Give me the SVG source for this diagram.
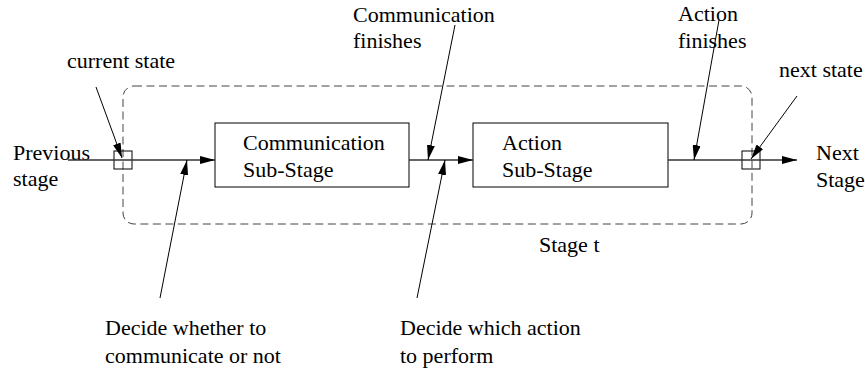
<svg xmlns="http://www.w3.org/2000/svg" width="865" height="368" viewBox="0 0 865 368">
<defs>
<marker id="ah" markerUnits="userSpaceOnUse" markerWidth="16" markerHeight="8" refX="15" refY="4" orient="auto">
<path d="M0,0 L15,4 L0,8 Z" fill="#000"/>
</marker>
</defs>
<style>
text { font-family: "Liberation Serif", "Times New Roman", serif; font-size: 22px; fill: #000; }
.box { fill: #fff; stroke: #000; stroke-width: 1; }
.sq { fill: none; stroke: #000; stroke-width: 1; }
.flow { stroke: #333; stroke-width: 1.3; fill: none; }
.ptr { stroke: #000; stroke-width: 1; fill: none; }
.stage { fill: none; stroke: #444; stroke-width: 1; stroke-dasharray: 8 4.5; }
</style>
<rect width="865" height="368" fill="#fff"/>
<g id="stage-t">
<rect class="stage" x="123" y="86" width="629" height="138" rx="11"/>
<text x="539" y="252">Stage t</text>
</g>
<g id="comm-sub-stage">
<rect class="box" x="215" y="123" width="194" height="64"/>
<text x="243" y="150">Communication</text>
<text x="243" y="177">Sub-Stage</text>
</g>
<g id="action-sub-stage">
<rect class="box" x="473" y="123" width="195" height="64"/>
<text x="502" y="150">Action</text>
<text x="502" y="177">Sub-Stage</text>
</g>
<g id="previous-stage">
<text x="13" y="160">Previous</text>
<text x="13" y="186">stage</text>
</g>
<g id="next-stage">
<text x="816" y="160">Next</text>
<text x="816" y="187">Stage</text>
</g>
<g id="current-state">
<rect class="sq" x="114" y="151" width="18" height="18"/>
<text x="67" y="68">current state</text>
</g>
<g id="next-state">
<rect class="sq" x="742" y="151" width="18" height="18"/>
<text x="779" y="77">next state</text>
</g>
<g id="comm-finishes">
<text x="353" y="22">Communication</text>
<text x="353" y="48">finishes</text>
</g>
<g id="action-finishes">
<text x="678" y="21">Action</text>
<text x="678" y="48">finishes</text>
</g>
<g id="decide-communicate">
<text x="105" y="335">Decide whether to</text>
<text x="105" y="363">communicate or not</text>
</g>
<g id="decide-action">
<text x="400" y="335">Decide which action</text>
<text x="400" y="363">to perform</text>
</g>
<g id="connectors">
<line class="flow" x1="68" y1="160" x2="215" y2="160" marker-end="url(#ah)"/>
<line class="flow" x1="409" y1="160" x2="473" y2="160" marker-end="url(#ah)"/>
<line class="flow" x1="668" y1="160" x2="797" y2="160" marker-end="url(#ah)"/>
<line class="ptr" x1="96" y1="87" x2="122" y2="158" marker-end="url(#ah)"/>
<line class="ptr" x1="160" y1="298" x2="187" y2="160" marker-end="url(#ah)"/>
<line class="ptr" x1="455" y1="25" x2="428" y2="160" marker-end="url(#ah)"/>
<line class="ptr" x1="417" y1="298" x2="445" y2="160" marker-end="url(#ah)"/>
<line class="ptr" x1="719" y1="20" x2="694" y2="160" marker-end="url(#ah)"/>
<line class="ptr" x1="797" y1="96" x2="751" y2="159" marker-end="url(#ah)"/>
</g>
</svg>
